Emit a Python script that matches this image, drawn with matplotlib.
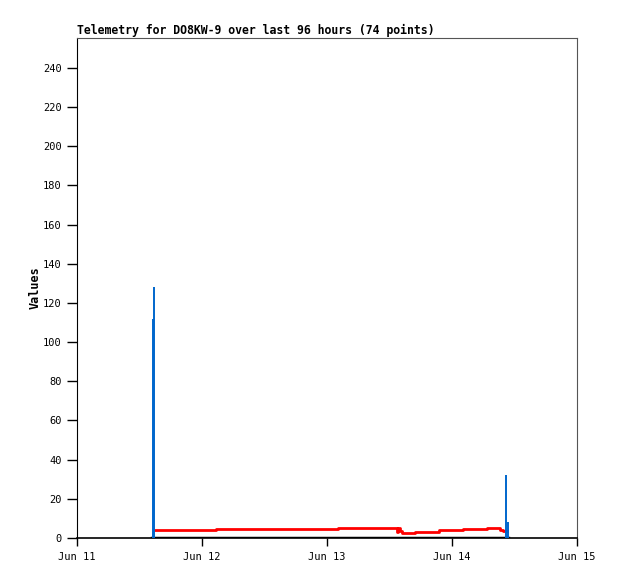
"""Telemetry chart for DO8KW-9 (last 96 hours)."""
import matplotlib

matplotlib.use("Agg")
import matplotlib.pyplot as plt
import pandas as pd

START = pd.Timestamp("2024-06-11 00:00")

# hours since Jun 11 00:00, step values
red_hours = [14.98, 26.6, 50.05, 61.4, 61.7, 62.0, 62.4, 64.9, 69.5, 74.1, 78.7, 81.2, 81.8, 82.6]
red_vals = [3.9, 4.4, 4.9, 3.0, 4.9, 3.8, 2.8, 3.3, 3.9, 4.4, 5.0, 4.3, 3.7, 3.7]

# blue readings are drawn as impulses from zero
blue_hours = [14.5, 14.78, 82.46, 82.75]
blue_vals = [112, 128, 32, 8]

black_hours = [14.4, 82.8]
black_vals = [0, 0]

y_ticks = list(range(0, 241, 20))
x_labels = ["Jun 11", "Jun 12", "Jun 13", "Jun 14", "Jun 15"]


def to_time(hours):
    return [START + pd.Timedelta(hours=h) for h in hours]


fig = plt.figure(figsize=(6.18, 5.79), dpi=100)
ax = fig.add_axes([77 / 618, 41 / 579, 500 / 618, 500 / 579])

mono = "DejaVu Sans Mono"
ax.plot(to_time(black_hours), black_vals, color="black", lw=2.5, zorder=2)
ax.plot(to_time(red_hours), red_vals, color="#ff0000", lw=2.0, drawstyle="steps-post", zorder=3)
ax.vlines(to_time(blue_hours), 0, blue_vals, color="#0066cc", lw=1.4, zorder=4)

ax.set_xlim(START, START + pd.Timedelta(days=4))
ax.set_ylim(0, 255.3)
ax.set_yticks(y_ticks)
ax.set_yticklabels([str(v) for v in y_ticks], family=mono, fontsize=7.5)
xt = [START + pd.Timedelta(days=d) for d in range(5)]
ax.set_xticks(xt)
ax.set_xticklabels(x_labels, family=mono, fontsize=7.5)
ax.tick_params(axis="y", direction="out", length=7, width=1, pad=4)
ax.tick_params(axis="x", direction="out", length=6, width=1, pad=4)

for side in ("top", "right"):
    ax.spines[side].set_color("#555555")
ax.spines["left"].set_color("black")
ax.spines["bottom"].set_color("black")
ax.spines["bottom"].set_linewidth(1.2)

ax.set_ylabel("Values", family=mono, fontweight="bold", fontsize=8.5, labelpad=1)
ax.set_title("Telemetry for DO8KW-9 over last 96 hours (74 points)", family=mono,
             fontweight="bold", fontsize=8.3, loc="left", pad=3)

fig.savefig("out.png", dpi=100)
